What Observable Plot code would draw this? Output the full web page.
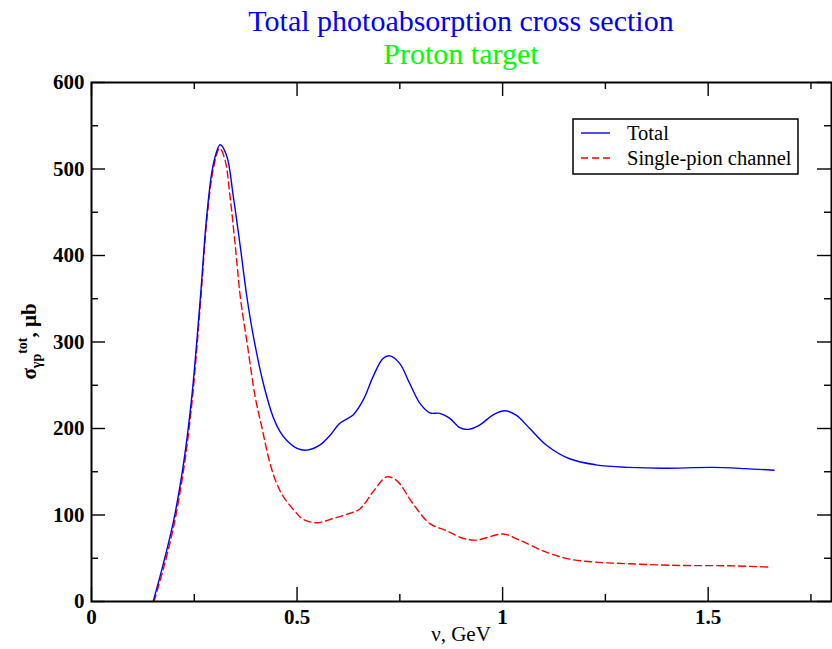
<!DOCTYPE html>
<html><head><meta charset="utf-8">
<script src="https://cdn.jsdelivr.net/npm/d3@7"></script>
<script src="https://cdn.jsdelivr.net/npm/@observablehq/plot@0.6"></script>
<style>
body{margin:0;background:#fff;}
#wrap{position:relative;width:832px;height:649px;overflow:hidden;font-family:"Liberation Serif","Times New Roman",serif;background:#fff;}
#head{position:relative;width:832px;height:70px;}
.t{position:absolute;left:91px;width:740px;text-align:center;font-size:30px;line-height:33px;white-space:nowrap;}
#chart svg{display:block;}
</style></head><body>
<div id="wrap">
  <div id="head">
    <div class="t" id="title" style="top:4px;color:#0000ff">Total photoabsorption cross section</div>
    <div class="t" id="subtitle" style="top:37.4px;color:#00ff00">Proton target</div>
  </div>
  <div id="chart"></div>
</div>
<script>
// ---- data ----
const totalX = [0.150,0.175,0.200,0.224,0.244,0.265,0.281,0.297,0.313,0.329,0.345,0.362,0.378,0.394,0.418,0.442,0.459,0.475,0.500,0.524,0.556,0.580,0.604,0.637,0.661,0.685,0.709,0.726,0.750,0.774,0.799,0.823,0.847,0.871,0.896,0.916,0.944,0.976,1.005,1.033,1.066,1.106,1.163,1.227,1.308,1.389,1.510,1.590,1.660];
const totalY = [0,44,94,160,237,352,449,507,528,515,468,410,352,306,252,213,196,186,177,175,181,192,206,216,233,260,281,284,275,252,229,218,217.5,212,201,199,204,215.5,220.5,215.5,200,181,165,158,155,154,155,153.6,151.7];
const pionX = [0.152,0.175,0.200,0.224,0.244,0.265,0.281,0.297,0.312,0.325,0.337,0.350,0.362,0.380,0.398,0.415,0.434,0.450,0.467,0.499,0.515,0.548,0.588,0.629,0.653,0.685,0.718,0.742,0.782,0.823,0.863,0.904,0.936,1.001,1.041,1.106,1.163,1.227,1.308,1.430,1.550,1.652];
const pionY = [0,38,87,152,228,345,443,502,524,510,468,410,352,294,237,200,160,137,121,102,95,91,96,102,107,127,144,140,113,90,82,73,71,78,71,57,49,45.5,43.6,41.7,41.3,39.7];
const xMajor = [0, 0.5, 1, 1.5];
const xMinor = [0.25, 0.75, 1.25, 1.75];
const yMajor = [0, 100, 200, 300, 400, 500, 600];
const yMinor = [50, 150, 250, 350, 450, 550];
const seriesNames = ["Total", "Single-pion channel"];
const seriesColors = ["#0000ff", "#ff0000"];

const total = totalX.map((x, i) => ({x, y: totalY[i]}));
const pion = pionX.map((x, i) => ({x, y: pionY[i]}));

// ---- layout ----
const W = 832, H = 579, mT = 12, mB = 48, mL = 91, mR = 1;
const pH = H - mT - mB, pW = W - mL - mR;
const MAJ = 14, MIN = 7;
const tickStyle = {stroke: "#000", strokeWidth: 1.4};
const FONT = "Liberation Serif, Times New Roman, serif";

const chart = Plot.plot({
  width: W, height: H,
  marginTop: mT, marginBottom: mB, marginLeft: mL, marginRight: mR,
  style: {fontFamily: FONT, fontSize: "21px", background: "#fff", color: "#000", overflow: "visible"},
  x: {domain: [0, 1.8]},
  y: {domain: [0, 600]},
  marks: [
    Plot.line(pion, {x: "x", y: "y", stroke: seriesColors[1], strokeWidth: 1.4, strokeDasharray: "7,4", curve: "catmull-rom"}),
    Plot.line(total, {x: "x", y: "y", stroke: seriesColors[0], strokeWidth: 1.4, curve: "catmull-rom"}),
    // inward ticks, bottom & top
    Plot.tickX(xMajor, {x: d => d, insetTop: pH - MAJ, ...tickStyle}),
    Plot.tickX(xMinor, {x: d => d, insetTop: pH - MIN, ...tickStyle}),
    Plot.tickX(xMajor, {x: d => d, insetBottom: pH - MAJ, ...tickStyle}),
    Plot.tickX(xMinor, {x: d => d, insetBottom: pH - MIN, ...tickStyle}),
    // inward ticks, left & right
    Plot.tickY(yMajor, {y: d => d, insetRight: pW - MAJ, ...tickStyle}),
    Plot.tickY(yMinor, {y: d => d, insetRight: pW - MIN, ...tickStyle}),
    Plot.tickY(yMajor, {y: d => d, insetLeft: pW - MAJ, ...tickStyle}),
    Plot.tickY(yMinor, {y: d => d, insetLeft: pW - MIN, ...tickStyle}),
    Plot.frame({stroke: "#000", strokeWidth: 2}),
    Plot.axisX({ticks: xMajor, tickSize: 0, tickPadding: 8, tickFormat: d => String(d), fontWeight: "bold", fontSize: 21, label: null}),
    Plot.axisY({ticks: yMajor, tickSize: 0, tickPadding: 7, tickFormat: d => String(d), fontWeight: "bold", fontSize: 21, label: null})
  ]
});
document.getElementById("chart").appendChild(chart);

const svg = d3.select(chart);
// y-axis title with sub/superscript
const yl = svg.append("text")
  .attr("transform", `translate(36,${mT + pH / 2}) rotate(-90)`)
  .attr("text-anchor", "middle")
  .attr("font-family", FONT)
  .attr("font-weight", "bold")
  .attr("font-size", 21)
  .attr("fill", "#000");
yl.append("tspan").text("σ");
yl.append("tspan").attr("dy", 5).attr("font-size", 14).text("γp");
yl.append("tspan").attr("dy", -14).attr("font-size", 14).text("tot");
yl.append("tspan").attr("dy", 9).text(", μb");

// x-axis title
svg.append("text")
  .attr("x", mL + pW / 2).attr("y", H - 8)
  .attr("text-anchor", "middle")
  .attr("font-family", FONT)
  .attr("font-size", 21)
  .attr("fill", "#000")
  .text("ν, GeV");

// legend
const lg = svg.append("g").attr("font-family", FONT).attr("font-size", 20.5).attr("text-anchor", "start");
lg.append("rect").attr("x", 573).attr("y", 49).attr("width", 225).attr("height", 55)
  .attr("fill", "#fff").attr("stroke", "#000").attr("stroke-width", 1.5);
seriesNames.forEach((name, i) => {
  const yy = 63 + i * 25;
  lg.append("line").attr("x1", 581).attr("x2", 610).attr("y1", yy).attr("y2", yy)
    .attr("stroke", seriesColors[i]).attr("stroke-width", 1.4)
    .attr("stroke-dasharray", i === 1 ? "7,4" : null);
  lg.append("text").attr("x", 627).attr("y", yy + 7).attr("text-anchor", "start").attr("fill", "#000").text(name);
});
</script>
</body></html>
